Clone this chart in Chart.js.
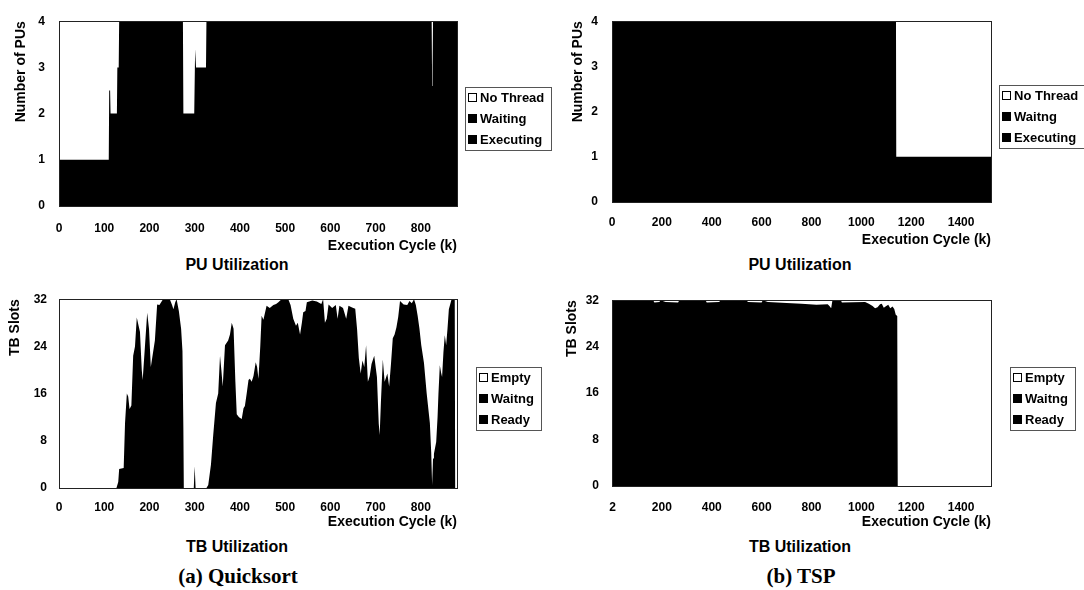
<!DOCTYPE html>
<html>
<head>
<meta charset="utf-8">
<title>PU and TB utilization</title>
<script src="https://cdn.jsdelivr.net/npm/chart.js@4.4.1/dist/chart.umd.min.js"></script>
<style>
  body { margin: 0; width: 1084px; height: 590px; background: #fff; position: relative; overflow: hidden; }
  .panel { position: absolute; }
  .label { position: absolute; transform: translate(-50%, -50%); white-space: nowrap; color: #000; }
  .chart-title { font: bold 16px "Liberation Sans", Arial, sans-serif; }
  .caption { font: bold 21px "Liberation Serif", "Times New Roman", serif; }
</style>
</head>
<body>
<div class="panel" style="left:0;top:0;width:560px;height:255px"><canvas id="qsPu"></canvas></div>
<div class="panel" style="left:540px;top:0;width:544px;height:249px"><canvas id="tspPu"></canvas></div>
<div class="panel" style="left:0;top:280px;width:560px;height:251px"><canvas id="qsTb"></canvas></div>
<div class="panel" style="left:540px;top:280px;width:544px;height:251px"><canvas id="tspTb"></canvas></div>

<div class="label chart-title" style="left:237px;top:265px">PU Utilization</div>
<div class="label chart-title" style="left:800px;top:265px">PU Utilization</div>
<div class="label chart-title" style="left:237px;top:547px">TB Utilization</div>
<div class="label chart-title" style="left:800px;top:547px">TB Utilization</div>
<div class="label caption" style="left:238px;top:576px">(a) Quicksort</div>
<div class="label caption" style="left:801px;top:576px">(b) TSP</div>

<script>
// tick labels
const puTicks = [0, 1, 2, 3, 4];
const tbTicks = [0, 8, 16, 24, 32];
const qsCycleTicks = [0, 100, 200, 300, 400, 500, 600, 700, 800];
const tspPuCycleTicks = [0, 200, 400, 600, 800, 1000, 1200, 1400];
const tspTbCycleTicks = [2, 200, 400, 600, 800, 1000, 1200, 1400];

// waiting and executing (ready) are both black in the figure,
// so only the combined busy height can be read; it is kept in the lower series
const qsPuCycle = [0, 110, 111, 113, 114, 128, 129, 132, 133, 274, 275, 299, 301, 303, 325, 326, 824, 825, 826, 827, 880];
const qsPuExecuting = [1, 1, 2.5, 2.5, 2, 2, 3, 3, 4, 4, 2, 2, 3.4, 3, 3, 4, 4, 2.6, 3, 4, 4];
const qsPuWaiting = [];
const qsPuNoThread = [3, 3, 1.5, 1.5, 2, 2, 1, 1, 0, 0, 2, 2, 0.6, 1, 1, 0, 0, 1.4, 1, 0, 0];

const tspPuCycle = [0, 1139, 1140, 1520];
const tspPuExecuting = [4, 4, 1, 1];
const tspPuWaiting = [];
const tspPuNoThread = [0, 0, 3, 3];

const qsTbCycle = [0, 127, 131, 133, 143, 146, 150, 153, 156, 160,
  164, 168, 172, 176, 179, 183, 185, 190, 195, 199,
  203, 208, 212, 217, 222, 230, 245, 250, 253, 257,
  260, 265, 270, 273, 275, 276, 298, 300, 302, 326,
  330, 336, 341, 347, 352, 356, 359, 362, 367, 374,
  378, 382, 386, 390, 393, 398, 404, 408, 411, 415,
  419, 422, 426, 430, 435, 438, 441, 445, 448, 452,
  459, 466, 474, 480, 485, 492, 507, 512, 518, 524,
  528, 533, 537, 540, 545, 548, 560, 570, 580, 584,
  588, 592, 596, 604, 612, 616, 620, 628, 635, 640,
  648, 655, 659, 663, 667, 671, 675, 679, 683, 687,
  691, 697, 703, 707, 709, 712, 716, 720, 726, 730,
  734, 738, 742, 746, 750, 754, 762, 770, 775, 780,
  785, 789, 793, 797, 801, 807, 813, 820, 823, 825,
  827, 829, 834, 837, 839, 842, 845, 847, 850, 853,
  856, 859, 862, 868, 875, 876, 880];
const qsTbReady = [0, 0, 1, 3.2, 3.4, 11, 16, 15.5, 13.4, 14,
  22.4, 24, 28.9, 27.5, 26.5, 20, 18.3, 24, 29.7, 27,
  20.5, 23, 25, 31.1, 31, 32, 32, 31, 30.3, 31.5,
  32, 30, 27, 23.2, 10, 0, 0, 3.7, 0, 0,
  0.5, 4, 9, 14.4, 16, 22.4, 20, 17.2, 24.2, 25,
  26, 28, 27, 18, 12.5, 12, 11.7, 13.5, 13.9, 16,
  18.3, 18.5, 18, 19, 21.3, 20.5, 18.5, 24, 29.2, 28.5,
  30.9, 30.5, 31, 31.2, 31.5, 32, 32, 31, 28.7, 27.5,
  28, 26, 28, 29.8, 30, 31.5, 31.8, 31.6, 31.2, 32,
  28, 28.7, 31.1, 30.5, 31, 28.7, 30.9, 30.5, 28.7, 30.9,
  30.6, 30.4, 27, 22, 19.4, 21.6, 20.5, 24.2, 18, 19,
  21, 22.4, 18.8, 10.9, 9, 15, 21.8, 18, 19.4, 17.2,
  21, 25.4, 26, 27.2, 29, 31.7, 31.1, 31, 31.7, 31.3,
  32, 31, 29.2, 27, 24.2, 21.2, 16, 11, 6, 0.5,
  5, 5.8, 7.8, 12, 16, 20.8, 19.5, 18.8, 23, 25.9,
  24.2, 27, 30.3, 32, 32, 0, 0];
const qsTbWaiting = [];
const qsTbEmpty = [32, 32, 31, 28.8, 28.6, 21, 16, 16.5, 18.6, 18,
  9.6, 8, 3.1, 4.5, 5.5, 12, 13.7, 8, 2.3, 5,
  11.5, 9, 7, 0.9, 1, 0, 0, 1, 1.7, 0.5,
  0, 2, 5, 8.8, 22, 32, 32, 28.3, 32, 32,
  31.5, 28, 23, 17.6, 16, 9.6, 12, 14.8, 7.8, 7,
  6, 4, 5, 14, 19.5, 20, 20.3, 18.5, 18.1, 16,
  13.7, 13.5, 14, 13, 10.7, 11.5, 13.5, 8, 2.8, 3.5,
  1.1, 1.5, 1, 0.8, 0.5, 0, 0, 1, 3.3, 4.5,
  4, 6, 4, 2.2, 2, 0.5, 0.2, 0.4, 0.8, 0,
  4, 3.3, 0.9, 1.5, 1, 3.3, 1.1, 1.5, 3.3, 1.1,
  1.4, 1.6, 5, 10, 12.6, 10.4, 11.5, 7.8, 14, 13,
  11, 9.6, 13.2, 21.1, 23, 17, 10.2, 14, 12.6, 14.8,
  11, 6.6, 6, 4.8, 3, 0.3, 0.9, 1, 0.3, 0.7,
  0, 1, 2.8, 5, 7.8, 10.8, 16, 21, 26, 31.5,
  27, 26.2, 24.2, 20, 16, 11.2, 12.5, 13.2, 9, 6.1,
  7.8, 5, 1.7, 0, 0, 32, 32];

const tspTbCycle = [0, 165, 170, 190, 195, 215, 265, 270, 375, 380,
  430, 435, 540, 545, 600, 605, 625, 700, 760, 820,
  865, 872, 879, 884, 918, 922, 1015, 1030, 1045, 1055,
  1065, 1075, 1082, 1090, 1100, 1108, 1116, 1125, 1132, 1138,
  1144, 1146, 1520];
const tspTbReady = [32, 32, 31.6, 31.7, 32, 31.7, 31.6, 32, 32, 31.6,
  31.7, 32, 32, 31.7, 31.6, 32, 31.7, 31.5, 31.4, 31.2,
  31.3, 31, 30.6, 32, 32, 31.6, 31.7, 31.4, 31, 30.6,
  30.8, 31.3, 31.4, 30.7, 31, 31.2, 30.6, 30.9, 30.5, 29.5,
  29.3, 0, 0];
const tspTbWaiting = [];
const tspTbEmpty = [0, 0, 0.4, 0.3, 0, 0.3, 0.4, 0, 0, 0.4,
  0.3, 0, 0, 0.3, 0.4, 0, 0.3, 0.5, 0.6, 0.8,
  0.7, 1, 1.4, 0, 0, 0.4, 0.3, 0.6, 1, 1.4,
  1.2, 0.7, 0.6, 1.3, 1, 0.8, 1.4, 1.1, 1.5, 2.5,
  2.7, 32, 32];

const FAMILY = '"Liberation Sans", Arial, sans-serif';

// legend in a thin box to the right of the plot
const boxLegend = {
  id: 'boxLegend',
  afterDraw(chart) {
    const ctx = chart.ctx;
    const area = chart.chartArea;
    const items = chart.data.datasets.slice().reverse();
    ctx.save();
    ctx.font = 'bold 13px ' + FAMILY;
    const textW = Math.max(...items.map(d => ctx.measureText(d.label).width));
    const w = Math.round(textW + 22);
    const h = items.length * 21;
    const x = Math.round(area.right + 51 - w / 2);
    const y = Math.round((area.top + area.bottom) / 2 + 5 - h / 2);
    ctx.strokeStyle = '#555';
    ctx.lineWidth = 1;
    ctx.strokeRect(x + 0.5, y + 0.5, w, h);
    items.forEach((d, i) => {
      const cy = y + 11 + i * 21;
      ctx.fillStyle = d.backgroundColor;
      ctx.fillRect(x + 3, cy - 5, 9, 9);
      ctx.strokeStyle = '#000';
      ctx.strokeRect(x + 3.5, cy - 4.5, 8, 8);
      ctx.fillStyle = '#000';
      ctx.textBaseline = 'middle';
      ctx.fillText(d.label, x + 15, cy);
    });
    ctx.restore();
  }
};

// frame round the plot area
const frame = {
  id: 'frame',
  afterDatasetsDraw(chart) {
    const {ctx, chartArea: a} = chart;
    ctx.save();
    ctx.strokeStyle = '#222';
    ctx.lineWidth = 1;
    ctx.strokeRect(Math.round(a.left) + 0.5, Math.round(a.top) + 0.5, Math.round(a.right - a.left), Math.round(a.bottom - a.top));
    ctx.restore();
  }
};

function makeChart(id, c) {
  const datasets = c.series.map((s, i) => ({
    label: s.label,
    data: s.values.map((v, k) => ({x: c.cycle[k], y: v})),
    backgroundColor: s.color,
    borderColor: s.color,
    borderWidth: 0,
    pointRadius: 0,
    tension: 0,
    fill: i === 0 ? 'origin' : false
  }));
  return new Chart(document.getElementById(id), {
    type: 'line',
    data: {datasets: datasets},
    options: {
      responsive: true,
      maintainAspectRatio: false,
      animation: false,
      layout: {padding: c.padding},
      plugins: {legend: {display: false}, tooltip: {enabled: false}},
      scales: {
        x: {
          type: 'linear',
          min: 0,
          max: c.xMax,
          grid: {display: false, drawTicks: false},
          border: {display: false},
          afterBuildTicks: ax => { ax.ticks = c.xTicks.map(v => ({value: v})); },
          afterFit: ax => { ax.height = c.xHeight; },
          ticks: {padding: c.xTickPad, color: '#000', font: {family: FAMILY, size: 12, weight: 'bold'},
                  maxRotation: 0, autoSkip: false, callback: v => String(v)},
          title: {display: true, text: 'Execution Cycle (k)', align: 'end', padding: 0, color: '#000',
                  font: {family: FAMILY, size: 14, weight: 'bold'}}
        },
        y: {
          stacked: true,
          min: 0,
          max: c.yMax,
          grid: {display: false, drawTicks: false},
          border: {display: false},
          afterBuildTicks: ax => { ax.ticks = c.yTicks.map(v => ({value: v})); },
          afterFit: ax => { ax.width = c.yWidth; },
          ticks: {padding: c.yTickPad, color: '#000', font: {family: FAMILY, size: 12, weight: 'bold'}},
          title: {display: true, text: c.yTitle, align: 'end', padding: 0, color: '#000',
                  font: {family: FAMILY, size: 14, weight: 'bold'}}
        }
      }
    },
    plugins: [frame, boxLegend]
  });
}

makeChart('qsPu', {
  cycle: qsPuCycle,
  series: [
    {label: 'Executing', values: qsPuExecuting, color: '#000'},
    {label: 'Waiting', values: qsPuWaiting, color: '#000'},
    {label: 'No Thread', values: qsPuNoThread, color: '#fff'}
  ],
  xMax: 880, xTicks: qsCycleTicks, yMax: 4, yTicks: puTicks, yTitle: 'Number of PUs',
  padding: {left: 13, top: 11, right: 103, bottom: 0}, yWidth: 46, xHeight: 49, xTickPad: 15, yTickPad: 14
});

makeChart('tspPu', {
  cycle: tspPuCycle,
  series: [
    {label: 'Executing', values: tspPuExecuting, color: '#000'},
    {label: 'Waitng', values: tspPuWaiting, color: '#000'},
    {label: 'No Thread', values: tspPuNoThread, color: '#fff'}
  ],
  xMax: 1520, xTicks: tspPuCycleTicks, yMax: 4, yTicks: puTicks, yTitle: 'Number of PUs',
  padding: {left: 30, top: 6, right: 93, bottom: 0}, yWidth: 42, xHeight: 47, xTickPad: 13, yTickPad: 14
});

makeChart('qsTb', {
  cycle: qsTbCycle,
  series: [
    {label: 'Ready', values: qsTbReady, color: '#000'},
    {label: 'Waitng', values: qsTbWaiting, color: '#000'},
    {label: 'Empty', values: qsTbEmpty, color: '#fff'}
  ],
  xMax: 880, xTicks: qsCycleTicks, yMax: 32, yTicks: tbTicks, yTitle: 'TB Slots',
  padding: {left: 7, top: 13, right: 103, bottom: 0}, yWidth: 52, xHeight: 43, xTickPad: 12, yTickPad: 12
});

makeChart('tspTb', {
  cycle: tspTbCycle,
  series: [
    {label: 'Ready', values: tspTbReady, color: '#000'},
    {label: 'Waitng', values: tspTbWaiting, color: '#000'},
    {label: 'Empty', values: tspTbEmpty, color: '#fff'}
  ],
  xMax: 1520, xTicks: tspTbCycleTicks, yMax: 32, yTicks: tbTicks, yTitle: 'TB Slots',
  padding: {left: 24, top: 10, right: 93, bottom: 0}, yWidth: 48, xHeight: 45, xTickPad: 14, yTickPad: 13
});
</script>
</body>
</html>
